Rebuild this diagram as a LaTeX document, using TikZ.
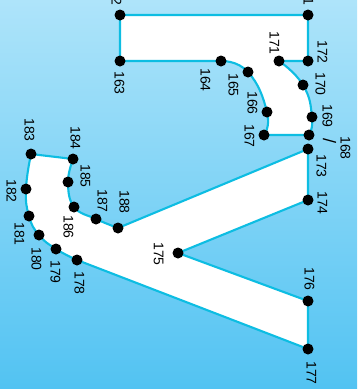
\documentclass[tikz,border=0pt]{standalone}
\usepackage{fontspec}
\setmainfont{Liberation Sans}
\usepackage{xcolor}
\usetikzlibrary{backgrounds}
\definecolor{skytop}{HTML}{AEE4FA}
\definecolor{skybottom}{HTML}{52C3F2}
\definecolor{edgeblue}{HTML}{0DBDE2}
\tikzset{
  dot/.style={circle,fill=black,inner sep=0pt,minimum size=11pt},
  num/.style={rotate=-90,yshift=1.5pt,inner sep=0pt,font=\fontsize{14}{14}\selectfont},
  outline/.style={fill=white,draw=edgeblue,line width=2.1pt,line join=round}
}
\begin{document}
\begin{tikzpicture}[x=1pt,y=-1pt]
    \useasboundingbox (0,0) rectangle (357,389);
    \clip (0,0) rectangle (357,389);
    \node[dot] (d161) at (308, 15) {};
    \node[dot] (d162) at (120, 15) {};
    \node[dot] (d163) at (120, 61) {};
    \node[dot] (d164) at (221, 61) {};
    \node[dot] (d165) at (248, 72) {};
    \node[dot] (d166) at (267, 112) {};
    \node[dot] (d167) at (264, 135) {};
    \node[dot] (d168) at (309, 135) {};
    \node[dot] (d169) at (312, 117) {};
    \node[dot] (d170) at (303, 85) {};
    \node[dot] (d171) at (279, 61) {};
    \node[dot] (d172) at (308, 61) {};
    \node[dot] (d173) at (308, 149) {};
    \node[dot] (d174) at (308, 200) {};
    \node[dot] (d175) at (178, 253) {};
    \node[dot] (d176) at (308, 301) {};
    \node[dot] (d177) at (308, 349) {};
    \node[dot] (d178) at (77, 260) {};
    \node[dot] (d179) at (56, 249) {};
    \node[dot] (d180) at (39, 235) {};
    \node[dot] (d181) at (29, 216) {};
    \node[dot] (d182) at (26, 189) {};
    \node[dot] (d183) at (31, 154) {};
    \node[dot] (d184) at (73, 159) {};
    \node[dot] (d185) at (68, 182) {};
    \node[dot] (d186) at (74, 207) {};
    \node[dot] (d187) at (96, 219) {};
    \node[dot] (d188) at (118, 228) {};
    \node[num] (n161) at (307, -6.5) {161};
    \node[num] (n162) at (115, -6.5) {162};
    \node[num] (n163) at (118, 83) {163};
    \node[num] (n164) at (204, 80) {164};
    \node[num] (n165) at (232, 85) {165};
    \node[num] (n166) at (251, 103) {166};
    \node[num] (n167) at (248, 136) {167};
    \node[num] (n168) at (344, 148) {168};
    \node[num,font=\fontsize{18}{18}\selectfont] (slash) at (328, 141) {/};
    \node[num] (n169) at (326, 116) {169};
    \node[num] (n170) at (319, 84) {170};
    \node[num] (n171) at (273, 43) {171};
    \node[num] (n172) at (321, 52) {172};
    \node[num] (n173) at (320, 166) {173};
    \node[num] (n174) at (321, 203) {174};
    \node[num] (n175) at (157, 254) {175};
    \node[num] (n176) at (308, 279) {176};
    \node[num] (n177) at (310, 373) {177};
    \node[num] (n178) at (78, 283) {178};
    \node[num] (n179) at (54, 272) {179};
    \node[num] (n180) at (35, 259) {180};
    \node[num] (n181) at (18, 234) {181};
    \node[num] (n182) at (10, 191) {182};
    \node[num] (n183) at (28, 130) {183};
    \node[num] (n184) at (74, 138) {184};
    \node[num] (n185) at (84, 176) {185};
    \node[num] (n186) at (67, 227) {186};
    \node[num] (n187) at (101, 201) {187};
    \node[num] (n188) at (123, 202) {188};
    \begin{scope}[on background layer]
      \shade[top color=skytop,bottom color=skybottom] (0,0) rectangle (357,389);
      % upper piece
      \draw[outline] (d161.center) -- (d172.center) -- (d171.center)
        -- plot[smooth,tension=.85] coordinates {(d171.center) (d170.center) (d169.center) (d168.center)}
        -- (d167.center)
        -- plot[smooth,tension=.85] coordinates {(d167.center) (d166.center) (d165.center) (d164.center)}
        -- (d163.center) -- (d162.center) -- cycle;
      % lower piece
      \draw[outline] (d173.center) -- (d174.center) -- (d175.center) -- (d176.center) -- (d177.center) -- (d178.center)
        -- plot[smooth,tension=.8] coordinates {(d178.center) (d179.center) (d180.center) (d181.center) (d182.center) (d183.center)}
        -- (d184.center)
        -- plot[smooth,tension=.7] coordinates {(d184.center) (d185.center) (d186.center) (d187.center) (d188.center)}
        -- cycle;
    \end{scope}
  \end{tikzpicture}
\end{document}
